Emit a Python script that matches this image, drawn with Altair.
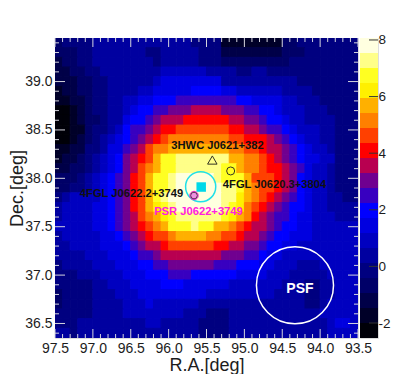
import altair as alt
import pandas as pd

# Band colours of the colour bar, bottom to top
band_colors = ["#000008", "#000028", "#000048", "#000068", "#000080", "#0000a0", "#0000c0", "#0000e0",
               "#0000ff", "#3800c0", "#700090", "#b80050", "#ff0000", "#ff4000", "#ff8000", "#ffb000",
               "#fff000", "#ffff22", "#ffff88", "#ffffe0"]
bar_low = -2.53
bar_step = 0.53

# Colour band of each cell, top row first, left (R.A. 97.5) to right (R.A. 93.5)
row_00 = [3,4,4,4,4,5,5,5,5,5,5,5,5,5,5,5,5,5,4,4,4,4,1,1,1,1,1,1,1,1,3,3,4,4,4,4,4,4,4,4]
row_01 = [3,3,3,4,4,5,5,5,5,5,5,5,4,4,5,5,5,5,5,4,4,4,2,2,2,2,2,2,2,2,3,3,3,4,4,4,4,4,4,4]
row_02 = [2,3,3,4,4,5,5,5,5,5,5,5,5,4,5,5,5,5,5,4,4,4,3,3,3,3,3,3,3,3,3,4,4,4,4,4,4,4,4,4]
row_03 = [2,2,3,3,4,4,5,5,5,5,5,5,5,5,6,6,6,6,6,6,5,5,5,5,4,4,5,5,4,4,4,4,4,4,4,4,4,4,4,4]
row_04 = [2,2,2,3,3,4,4,5,5,5,5,5,5,6,7,7,7,7,7,7,7,7,5,5,5,5,5,5,5,5,5,5,4,4,4,4,4,4,4,4]
row_05 = [1,2,2,3,3,4,4,5,5,5,5,6,6,7,7,7,7,7,8,8,8,8,7,7,6,6,6,6,6,6,5,5,5,5,4,4,4,4,4,4]
row_06 = [1,1,2,2,3,4,4,5,5,6,6,7,7,8,8,8,9,9,9,9,9,9,9,9,8,8,7,7,7,7,6,6,5,5,5,4,4,4,4,4]
row_07 = [0,0,1,2,3,4,4,5,5,6,7,8,8,9,9,10,10,10,11,11,11,11,10,10,10,9,9,8,8,7,6,6,6,5,5,5,4,4,4,4]
row_08 = [0,0,1,2,3,3,4,5,5,7,8,8,9,10,11,11,11,12,12,12,12,12,12,11,11,10,10,9,8,8,7,6,6,5,5,5,5,4,4,4]
row_09 = [0,0,1,1,3,4,4,5,6,8,9,9,10,11,12,12,13,13,13,13,13,13,13,12,12,11,11,10,9,9,8,7,6,6,6,5,5,4,4,4]
row_10 = [0,0,1,2,3,4,5,6,7,8,9,10,11,12,13,14,14,14,14,14,14,14,14,13,13,12,12,12,11,10,9,8,7,6,6,5,5,4,4,4]
row_11 = [1,1,2,2,4,4,5,7,7,9,10,11,13,14,14,15,15,15,15,15,15,15,15,14,14,13,13,12,11,11,10,9,8,7,6,6,5,4,4,4]
row_12 = [1,2,2,3,4,5,6,7,8,10,11,12,13,15,17,17,18,18,18,18,18,18,18,15,15,14,14,13,12,11,10,9,8,7,7,6,6,4,4,4]
row_13 = [2,2,3,3,4,5,6,7,8,10,11,13,14,15,17,17,18,18,18,18,18,18,17,17,15,14,14,13,12,12,11,10,9,7,6,6,5,4,4,4]
row_14 = [3,3,3,4,5,6,7,8,9,10,12,13,15,17,17,18,19,19,19,19,19,18,17,17,17,15,13,13,13,12,11,10,8,7,6,6,5,4,4,4]
row_15 = [3,3,4,4,5,6,7,8,9,10,12,13,15,17,17,18,19,19,19,19,19,19,18,18,17,15,14,13,13,12,11,10,8,7,6,6,5,4,4,4]
row_16 = [4,5,6,6,6,6,7,8,9,10,12,13,15,17,18,19,19,19,19,19,19,19,18,18,16,15,14,13,12,11,10,9,8,7,6,6,5,5,4,4]
row_17 = [5,6,6,6,6,7,7,8,9,10,12,13,15,16,17,18,19,19,19,19,19,19,18,17,16,14,13,12,11,10,9,8,8,7,6,6,5,5,5,5]
row_18 = [5,6,6,6,6,7,7,8,9,10,11,13,14,15,16,17,18,18,18,18,18,18,17,16,15,14,12,11,10,9,9,8,7,7,6,6,6,5,5,5]
row_19 = [6,6,6,6,6,7,7,8,9,10,11,12,13,14,15,17,17,17,18,17,17,15,15,14,13,12,11,11,10,9,8,8,7,7,6,6,6,6,6,6]
row_20 = [5,6,6,6,6,6,7,7,8,9,10,11,12,13,13,14,15,15,15,15,14,14,13,13,12,11,11,10,9,8,8,7,7,7,6,6,6,6,6,6]
row_21 = [5,5,6,6,6,6,7,7,7,8,9,10,11,11,12,13,13,13,13,13,13,12,12,11,11,10,10,9,8,8,7,7,6,6,6,6,6,6,6,6]
row_22 = [5,5,5,5,6,6,6,7,7,7,8,9,9,10,11,11,11,11,11,11,11,11,10,10,10,9,9,8,7,7,6,6,6,6,6,6,6,6,6,6]
row_23 = [4,5,5,5,5,6,6,6,7,7,7,8,8,9,9,10,10,10,10,10,10,9,9,9,8,8,8,7,7,6,6,6,5,5,5,6,6,6,6,6]
row_24 = [4,4,4,5,5,5,6,6,6,7,7,7,8,8,8,9,9,9,8,8,8,8,8,8,7,7,7,7,6,6,6,5,5,5,5,5,6,6,6,6]
row_25 = [4,4,4,4,4,5,5,6,6,6,7,7,7,7,8,8,8,7,7,7,7,7,7,6,6,6,6,6,6,6,5,5,5,4,4,5,5,6,6,6]
row_26 = [3,4,4,4,4,5,5,5,6,6,6,7,7,7,7,7,7,7,7,7,6,6,6,6,6,6,6,6,6,5,5,5,5,4,4,5,5,6,6,6]
row_27 = [3,4,4,4,4,5,5,5,5,6,6,6,7,6,6,6,6,6,6,5,5,5,5,5,5,5,5,5,5,5,5,5,5,4,4,5,6,6,6,6]
row_28 = [4,4,4,4,4,5,5,5,5,6,6,6,6,6,6,6,6,5,5,5,4,4,4,5,5,5,5,5,5,5,5,5,5,5,5,6,6,6,6,6]
row_29 = [4,4,4,5,5,5,5,5,5,5,5,5,6,6,5,5,5,5,5,4,4,4,4,5,5,5,5,5,5,5,5,5,5,5,5,5,6,7,7,6]
row_30 = [5,5,4,5,5,5,5,5,5,5,5,5,5,5,5,5,5,5,5,4,4,4,4,5,5,5,5,5,5,5,5,5,5,5,5,5,6,6,6,6]
rows = [row_00, row_01, row_02, row_03, row_04, row_05, row_06, row_07, row_08, row_09, row_10,
        row_11, row_12, row_13, row_14, row_15, row_16, row_17, row_18, row_19, row_20,
        row_21, row_22, row_23, row_24, row_25, row_26, row_27, row_28, row_29, row_30]

ra_left = 97.5
ra_right = 93.5
dec_top = 39.45
dec_bottom = 36.35
cell = 0.1

x_labels = [97.5, 97.0, 96.5, 96.0, 95.5, 95.0, 94.5, 94.0, 93.5]
y_labels = [39.0, 38.5, 38.0, 37.5, 37.0, 36.5]
bar_labels = [8, 6, 4, 2, 0, -2]

# Annotations: R.A., Dec., text
name_text = ["3HWC J0621+382", "4FGL J0620.3+3804", "4FGL J0622.2+3749"]
name_ra = [95.355, 94.602, 96.49]
name_dec = [38.334, 37.931, 37.838]
psr_text = ["PSR J0622+3749"]
psr_ra = [95.606]
psr_dec = [37.652]
psf_text = ["PSF"]
psf_ra = [94.266]
psf_dec = [36.856]

FONT = "Liberation Sans"
INK = "#1c1c1c"
TICK = "#d4d4de"

cells = []
for r, row in enumerate(rows):
    for c, level in enumerate(row):
        cells.append({
            "ra": round(ra_left - c * cell, 2), "ra2": round(ra_left - (c + 1) * cell, 2),
            "dec": round(dec_top - r * cell, 2), "dec2": round(dec_top - (r + 1) * cell, 2),
            "value": bar_low + (level + 0.5) * bar_step,
        })
cells = pd.DataFrame(cells)

edges = [round(bar_low + i * bar_step, 3) for i in range(len(band_colors) + 1)]
color_scale = alt.Scale(type="threshold", domain=edges[1:-1], range=band_colors)
xs = alt.Scale(domain=[ra_left, ra_right], zero=False, nice=False)
ys = alt.Scale(domain=[dec_bottom, dec_top], zero=False, nice=False)

W, H = 303, 300

x_axis = alt.Axis(
    title="R.A.[deg]", values=x_labels, format=".1f", ticks=False, domain=False, grid=False,
    labelFont=FONT, labelFontSize=14, labelColor=INK, labelPadding=3, labelFlush=False,
    labelOverlap=False, titleFont=FONT, titleFontSize=18, titleFontWeight="normal",
    titleColor=INK, titlePadding=1)
y_axis = alt.Axis(
    title="Dec.[deg]", values=y_labels, format=".1f", ticks=False, domain=False, grid=False,
    labelFont=FONT, labelFontSize=14, labelColor=INK, labelPadding=3, labelFlush=False,
    labelOverlap=False, titleFont=FONT, titleFontSize=18, titleFontWeight="normal",
    titleColor=INK, titlePadding=-2)


def X(field):
    return alt.X(field, scale=xs, axis=x_axis)


def Y(field):
    return alt.Y(field, scale=ys, axis=y_axis)


heat = alt.Chart(cells).mark_rect(strokeWidth=1, clip=True).encode(
    x=X("ra:Q"),
    x2="ra2:Q",
    y=Y("dec:Q"),
    y2="dec2:Q",
    color=alt.Color("value:Q", scale=color_scale, legend=None),
    stroke=alt.Stroke("value:Q", scale=color_scale, legend=None),
)


def xticks(vals, a, b):
    return alt.Chart(pd.DataFrame({"x": vals})).mark_rule(color=TICK, strokeWidth=1).encode(
        x=X("x:Q"), y=alt.value(a), y2=alt.value(b))


def yticks(vals, a, b):
    return alt.Chart(pd.DataFrame({"y": vals})).mark_rule(color=TICK, strokeWidth=1).encode(
        y=Y("y:Q"), x=alt.value(a), x2=alt.value(b))


x_all = [round(97.5 - 0.1 * i, 1) for i in range(41)]
y_all = [round(39.4 - 0.1 * i, 1) for i in range(31)]
x_minor = [v for v in x_all if v not in x_labels]
y_minor = [v for v in y_all if v not in y_labels]

tick_layers = [
    xticks(x_minor, H, H - 4), xticks(x_labels, H, H - 9),
    xticks(x_minor, 0, 4), xticks(x_labels, 0, 9),
    yticks(y_minor, 0, 4), yticks(y_labels, 0, 10),
    yticks(y_minor, W, W - 4), yticks(y_labels, W, W - 10),
]


def marker(ra, dec, shape, size, color, width):
    return alt.Chart(pd.DataFrame({"x": [ra], "y": [dec]})).mark_point(
        shape=shape, size=size, filled=False, stroke=color, strokeWidth=width, opacity=1
    ).encode(x=X("x:Q"), y=Y("y:Q"))


def labels(texts, ra, dec, color, size):
    return alt.Chart(pd.DataFrame({"x": ra, "y": dec, "t": texts})).mark_text(
        font=FONT, fontSize=size, fontWeight="bold", color=color, align="center", baseline="middle"
    ).encode(x=X("x:Q"), y=Y("y:Q"), text="t:N")


def dot(ra, dec, shape, size, color):
    return alt.Chart(pd.DataFrame({"x": [ra], "y": [dec]})).mark_point(
        shape=shape, size=size, filled=True, fill=color, opacity=1, stroke=color, strokeWidth=0
    ).encode(x=X("x:Q"), y=Y("y:Q"))


main = alt.layer(
    heat, *tick_layers,
    marker(95.577, 37.913, "circle", 908, "#20e0e8", 1.5),
    dot(95.57, 37.91, "square", 90, "#00d8e8"),
    dot(95.665, 37.822, "circle", 60, "#f090e0"),
    marker(95.665, 37.822, "circle", 72, "#f020d0", 1),
    marker(95.665, 37.822, "circle", 44, "#302030", 0.8),
    marker(95.423, 38.189, "triangle-up", 90, "#333322", 1),
    marker(95.181, 38.076, "circle", 64, "#333322", 1),
    marker(94.332, 36.895, "circle", 5945, "white", 1.5),
    labels(name_text, name_ra, name_dec, "#111111", 11.2),
    labels(psr_text, psr_ra, psr_dec, "#ff20e0", 11.2),
    labels(psf_text, psf_ra, psf_dec, "white", 14),
).properties(width=W, height=H)

bands = pd.DataFrame({"lo": edges[:-1], "hi": edges[1:], "c": band_colors})
bar_scale = alt.Scale(domain=[edges[0], edges[-1]], zero=False, nice=False)
bar_axis = alt.Axis(
    orient="right", title=None, values=bar_labels, labelExpr="'' + datum.value", ticks=False, domain=False,
    grid=False, labelFont=FONT, labelFontSize=13.5, labelColor=INK, labelPadding=0, labelFlush=False,
    labelOverlap=False)
bar = alt.Chart(bands).mark_rect().encode(
    y=alt.Y("lo:Q", scale=bar_scale, axis=bar_axis),
    y2="hi:Q",
    x=alt.value(0), x2=alt.value(18),
    fill=alt.Fill("c:N", scale=None),
)
bar_ticks = alt.Chart(pd.DataFrame({"y": bar_labels})).mark_rule(color="#333333", strokeWidth=1).encode(
    y=alt.Y("y:Q", scale=bar_scale, axis=bar_axis),
    x=alt.value(9), x2=alt.value(18),
)
colorbar = alt.layer(bar, bar_ticks).properties(width=18, height=H)

chart = alt.hconcat(main, colorbar, spacing=2, bounds="flush").properties(
    padding={"left": 0, "top": 24, "right": 0, "bottom": -1}
).configure_view(stroke="#d0d0d8", strokeWidth=1).configure(background="white")

chart.save("out.html", embed_options={"renderer": "svg", "actions": False})
